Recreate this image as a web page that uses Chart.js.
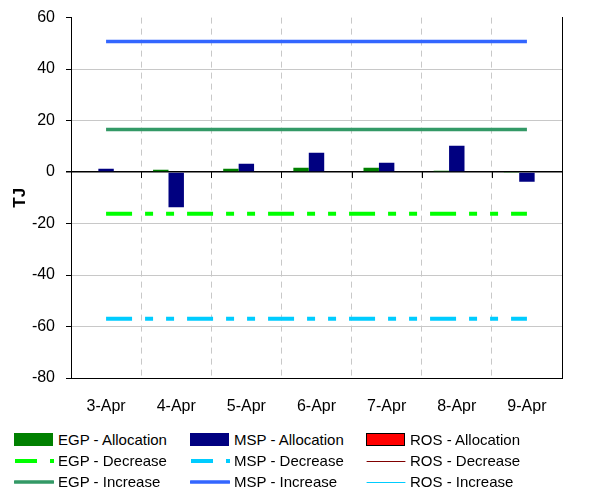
<!DOCTYPE html>
<html>
<head>
<meta charset="utf-8">
<script src="https://cdn.jsdelivr.net/npm/chart.js@4"></script>
<style>
    body { margin: 0; background: #fff; font-family: "Liberation Sans", Arial, sans-serif; }
    #wrap { position: relative; width: 614px; height: 489px; overflow: hidden; }
    #chartBox { position: absolute; left: 0; top: -3px; width: 614px; height: 429px; }
    #legend { position: absolute; left: 14px; top: 430px; display: grid; grid-template-columns: 176px 176px 176px; row-gap: 2px; }
    .item { display: flex; align-items: center; height: 19px; font-size: 15px; color: #000; white-space: nowrap; }
    .item canvas { margin-right: 4px; }
</style>
</head>
<body>
<div id="wrap">
    <div id="chartBox"><canvas id="chart"></canvas></div>
    <div id="legend"></div>
</div>
<script>
const categories = ['3-Apr', '4-Apr', '5-Apr', '6-Apr', '7-Apr', '8-Apr', '9-Apr'];

// barras
const egpAllocation = [0, 0.9, 1.3, 1.7, 1.7, 0.5, -0.4];
const mspAllocation = [1.3, -13.7, 3.2, 7.5, 3.6, 10.2, -3.8];
const rosAllocation = [0, 0, 0, 0, 0, 0, 0];

// linhas
const egpDecrease = [-16.2, -16.2, -16.2, -16.2, -16.2, -16.2, -16.2];
const mspDecrease = [-57, -57, -57, -57, -57, -57, -57];
const rosDecrease = [null, null, null, null, null, null, null];
const egpIncrease = [16.5, 16.5, 16.5, 16.5, 16.5, 16.5, 16.5];
const mspIncrease = [50.7, 50.7, 50.7, 50.7, 50.7, 50.7, 50.7];
const rosIncrease = [null, null, null, null, null, null, null];

const yTicks = [-80, -60, -40, -20, 0, 20, 40, 60];

const dashDot = [26, 13, 8, 13, 8, 13];

function lineSet(label, data, color, width, dash) {
    return {
        type: 'line', label: label, data: data,
        borderColor: color, backgroundColor: color,
        borderWidth: width, borderDash: dash, borderCapStyle: 'butt',
        pointRadius: 0, fill: false, tension: 0, order: 0
    };
}

// ordem igual à legenda (linha a linha)
const datasets = [
    { type: 'bar', label: 'EGP - Allocation', data: egpAllocation, backgroundColor: '#008000', borderWidth: 0, order: 1 },
    { type: 'bar', label: 'MSP - Allocation', data: mspAllocation, backgroundColor: '#000080', borderWidth: 0, order: 1 },
    { type: 'bar', label: 'ROS - Allocation', data: rosAllocation, backgroundColor: '#ff0000', borderColor: '#000', borderWidth: 0, order: 1 },
    lineSet('EGP - Decrease', egpDecrease, '#00ff00', 4, dashDot),
    lineSet('MSP - Decrease', mspDecrease, '#00ccff', 4, dashDot),
    lineSet('ROS - Decrease', rosDecrease, '#800000', 1, []),
    lineSet('EGP - Increase', egpIncrease, '#339966', 3.5, []),
    lineSet('MSP - Increase', mspIncrease, '#3366ff', 3.5, []),
    lineSet('ROS - Increase', rosIncrease, '#00ccff', 1, [])
];

// marcas pequenas no eixo zero entre as categorias
const zeroTicks = {
    id: 'zeroTicks',
    afterDatasetsDraw(chart) {
        const x = chart.scales.x, y = chart.scales.y;
        const y0 = y.getPixelForValue(0);
        const ctx = chart.ctx;
        ctx.save();
        ctx.strokeStyle = '#000';
        ctx.lineWidth = 1;
        for (let i = 1; i < categories.length; i++) {
            const bx = Math.round((x.getPixelForValue(i - 1) + x.getPixelForValue(i)) / 2) + 0.5;
            ctx.beginPath();
            ctx.moveTo(bx, y0);
            ctx.lineTo(bx, y0 + 6);
            ctx.stroke();
        }
        ctx.restore();
    }
};

const font = { family: '"Liberation Sans", Arial, sans-serif', size: 16 };

const chart = new Chart(document.getElementById('chart').getContext('2d'), {
    type: 'bar',
    data: { labels: categories, datasets: datasets },
    plugins: [zeroTicks],
    options: {
        responsive: true,
        maintainAspectRatio: false,
        animation: false,
        layout: { padding: { top: 14, right: 52, left: 0, bottom: 0 } },
        datasets: { bar: { categoryPercentage: 0.66, barPercentage: 1 } },
        plugins: {
            legend: { display: false },
            tooltip: { enabled: false }
        },
        scales: {
            x: {
                offset: true,
                grid: { offset: true, color: '#c8c8c8', lineWidth: 1, drawTicks: false },
                border: { color: '#000', width: 1, dash: [6, 5] },
                ticks: { color: '#000', font: font, padding: 19, maxRotation: 0 },
                afterFit(scale) { scale.height = 48; }
            },
            y: {
                min: -80, max: 60,
                afterBuildTicks(scale) { scale.ticks = yTicks.map(v => ({ value: v })); },
                grid: {
                    color: ctx => ctx.tick.value === 0 ? '#000' : (ctx.tick.value === 60 ? 'rgba(0,0,0,0)' : '#c8c8c8'),
                    lineWidth: ctx => ctx.tick.value === 0 ? 1.5 : 1,
                    tickColor: '#000', tickLength: 5
                },
                border: { color: '#000', width: 1 },
                ticks: { color: '#000', font: font, padding: 11 },
                title: { display: true, text: 'TJ', color: '#000', font: { family: font.family, size: 17, weight: 'bold' }, padding: { top: 10, bottom: 0 } },
                afterFit(scale) { scale.width = 71; }
            },
            yR: {
                position: 'right', min: -80, max: 60,
                grid: { display: false },
                ticks: { display: false },
                border: { color: '#000', width: 1 },
                afterFit(scale) { scale.width = 0; }
            }
        }
    }
});

// legenda em HTML, gerada a partir dos datasets
function drawSymbol(ds) {
    const c = document.createElement('canvas');
    c.width = 40; c.height = 14;
    const g = c.getContext('2d');
    if (ds.type === 'bar') {
        g.fillStyle = ds.backgroundColor;
        g.fillRect(0, 0, 39, 13);
        if (ds.borderColor) {
            g.strokeStyle = ds.borderColor; g.lineWidth = 1;
            g.strokeRect(0.5, 0.5, 38, 12);
        }
    } else {
        const yy = ds.borderWidth === 1 ? 7.5 : 7;
        g.strokeStyle = ds.borderColor;
        g.lineWidth = ds.borderWidth;
        g.lineCap = ds.borderDash.length ? 'butt' : 'round';
        g.beginPath();
        if (ds.borderDash.length) {
            g.moveTo(1, yy); g.lineTo(23, yy);
            g.moveTo(36, yy); g.lineTo(40, yy);
        } else {
            g.moveTo(1, yy); g.lineTo(39, yy);
        }
        g.stroke();
    }
    return c;
}

const legendEl = document.getElementById('legend');
chart.data.datasets.forEach(ds => {
    const item = document.createElement('div');
    item.className = 'item';
    item.appendChild(drawSymbol(ds));
    const span = document.createElement('span');
    span.textContent = ds.label;
    item.appendChild(span);
    legendEl.appendChild(item);
});
</script>
</body>
</html>
